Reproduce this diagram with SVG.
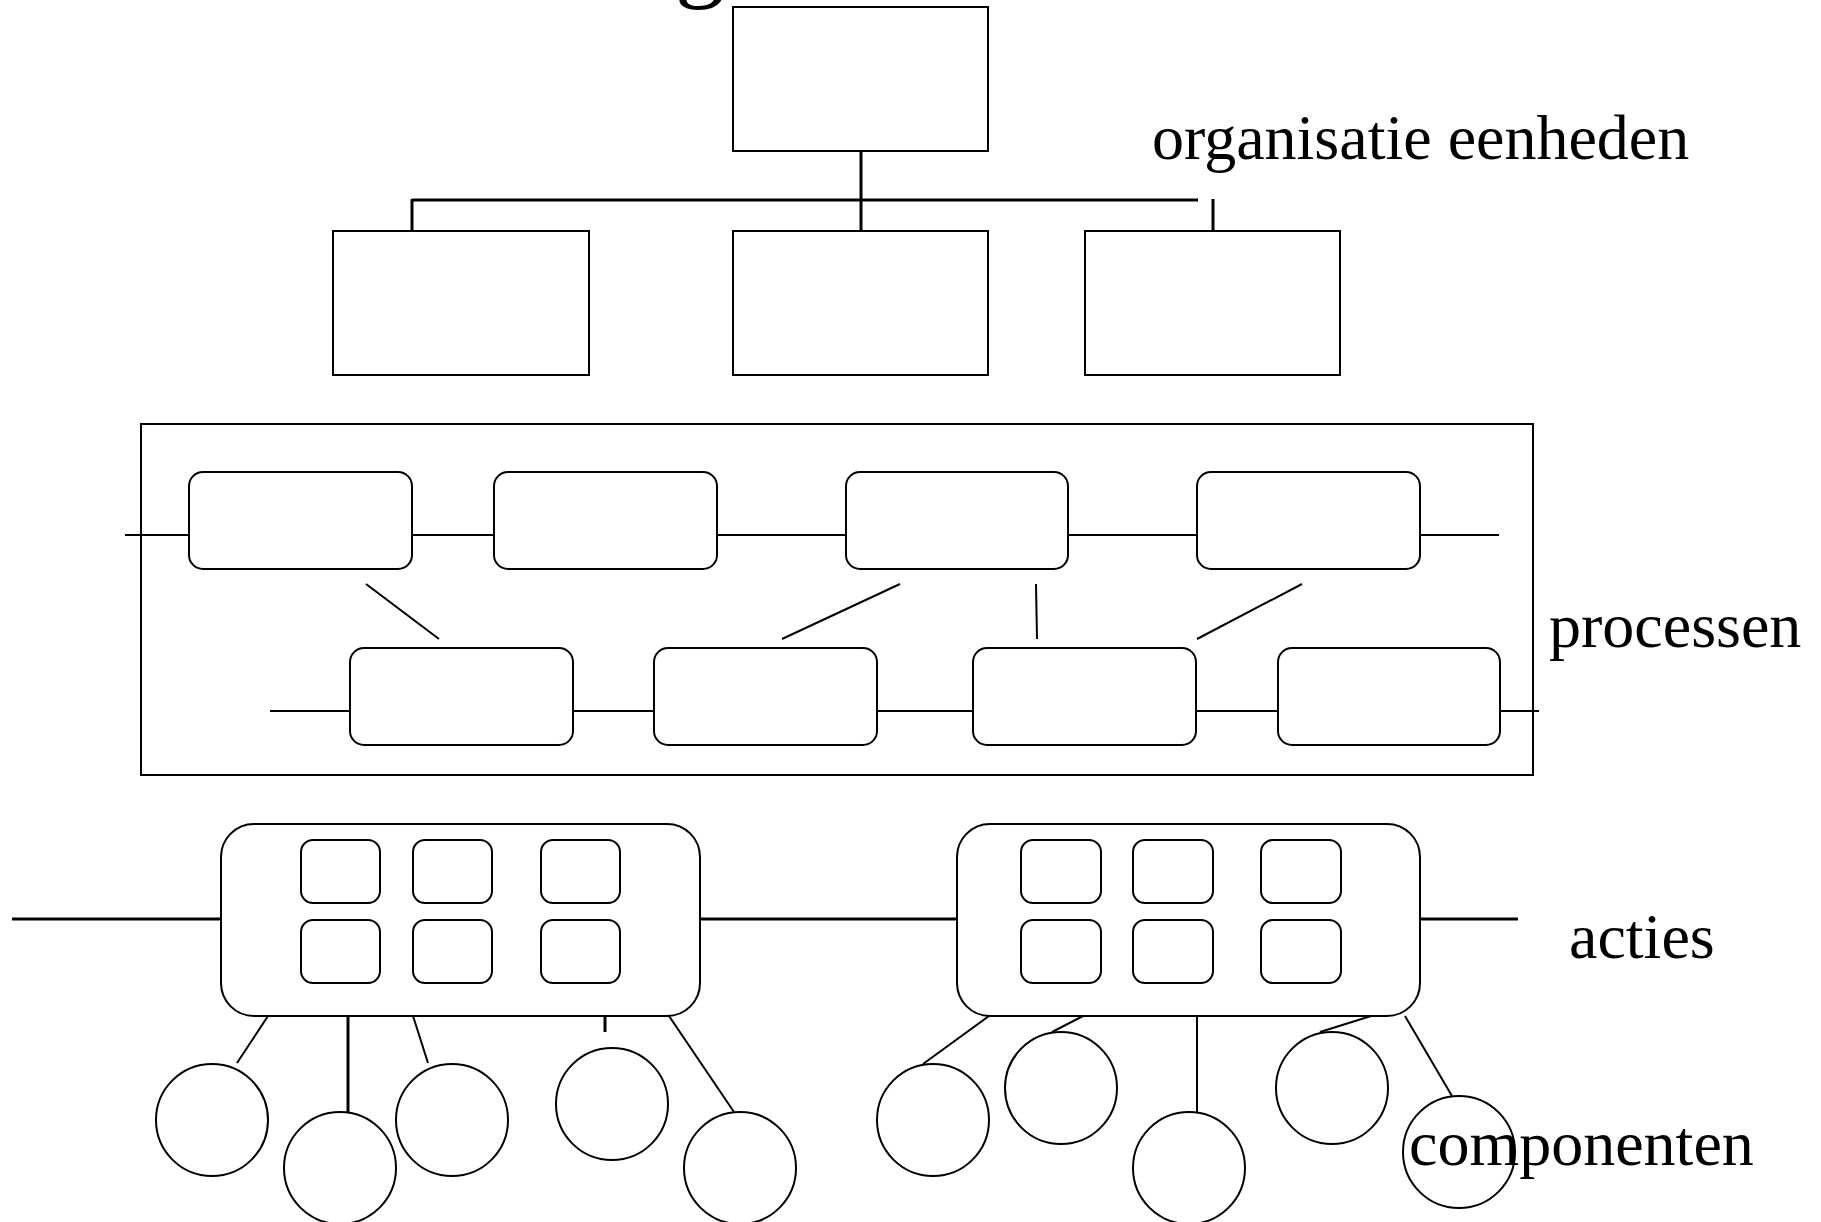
<svg xmlns="http://www.w3.org/2000/svg" width="1821" height="1222" viewBox="0 0 1821 1222">
<style>
.box{fill:#fff;stroke:#000;stroke-width:2}
.ln{stroke:#000;stroke-width:2;fill:none}
.thk{stroke:#000;stroke-width:3;fill:none}
.lbl{font-family:"Liberation Serif","Times New Roman",serif;font-size:64px;fill:#000}
</style>
<rect width="1821" height="1222" fill="#fff"/>
<text class="lbl" x="675" y="-11" style="font-size:100px">g</text>
<g id="connectors">
<line class="thk" x1="861" y1="151" x2="861" y2="231"/>
<line class="thk" x1="412" y1="200" x2="1198" y2="200"/>
<line class="thk" x1="412" y1="199" x2="412" y2="231"/>
<line class="thk" x1="1213" y1="199" x2="1213" y2="231"/>
<line class="ln" x1="125" y1="535" x2="189" y2="535"/>
<line class="ln" x1="412" y1="535" x2="494" y2="535"/>
<line class="ln" x1="717" y1="535" x2="846" y2="535"/>
<line class="ln" x1="1068" y1="535" x2="1197" y2="535"/>
<line class="ln" x1="1420" y1="535" x2="1499" y2="535"/>
<line class="ln" x1="270" y1="711" x2="350" y2="711"/>
<line class="ln" x1="573" y1="711" x2="654" y2="711"/>
<line class="ln" x1="877" y1="711" x2="973" y2="711"/>
<line class="ln" x1="1196" y1="711" x2="1278" y2="711"/>
<line class="ln" x1="1500" y1="711" x2="1539" y2="711"/>
<line class="ln" x1="366" y1="584" x2="439" y2="639"/>
<line class="ln" x1="900" y1="584" x2="782" y2="639"/>
<line class="ln" x1="1036" y1="584" x2="1037" y2="639"/>
<line class="ln" x1="1302" y1="584" x2="1197" y2="639"/>
<line class="thk" x1="12" y1="919" x2="221" y2="919"/>
<line class="thk" x1="700" y1="919" x2="957" y2="919"/>
<line class="thk" x1="1420" y1="919" x2="1518" y2="919"/>
<line class="ln" x1="268" y1="1016" x2="237" y2="1063"/>
<line class="thk" x1="348" y1="1016" x2="348" y2="1112"/>
<line class="ln" x1="413" y1="1016" x2="428" y2="1063"/>
<line class="thk" x1="605" y1="1016" x2="605" y2="1032"/>
<line class="ln" x1="669" y1="1016" x2="734" y2="1112"/>
<line class="ln" x1="989" y1="1016" x2="923" y2="1064"/>
<line class="ln" x1="1083" y1="1016" x2="1052" y2="1032"/>
<line class="ln" x1="1197" y1="1016" x2="1197" y2="1112"/>
<line class="ln" x1="1371" y1="1016" x2="1320" y2="1032"/>
<line class="ln" x1="1405" y1="1016" x2="1452" y2="1096"/>
</g>
<g id="org-top"><rect class="box" x="733" y="7" width="255" height="144"/></g>
<g id="org-1"><rect class="box" x="333" y="231" width="256" height="144"/></g>
<g id="org-2"><rect class="box" x="733" y="231" width="255" height="144"/></g>
<g id="org-3"><rect class="box" x="1085" y="231" width="255" height="144"/></g>
<g id="label-org"><text class="lbl" x="1152" y="159">organisatie eenheden</text></g>
<g id="processen-frame"><rect class="box" x="141" y="424" width="1392" height="351" fill="none" style="fill:none"/></g>
<g id="p1"><rect class="box" x="189" y="472" width="223" height="97" rx="14"/></g>
<g id="p2"><rect class="box" x="494" y="472" width="223" height="97" rx="14"/></g>
<g id="p3"><rect class="box" x="846" y="472" width="222" height="97" rx="14"/></g>
<g id="p4"><rect class="box" x="1197" y="472" width="223" height="97" rx="14"/></g>
<g id="p5"><rect class="box" x="350" y="648" width="223" height="97" rx="14"/></g>
<g id="p6"><rect class="box" x="654" y="648" width="223" height="97" rx="14"/></g>
<g id="p7"><rect class="box" x="973" y="648" width="223" height="97" rx="14"/></g>
<g id="p8"><rect class="box" x="1278" y="648" width="222" height="97" rx="14"/></g>
<g id="label-processen"><text class="lbl" x="1549" y="647">processen</text></g>
<g id="actie-1">
<rect class="box" x="221" y="824" width="479" height="192" rx="33"/>
<rect class="box" x="301" y="840" width="79" height="63" rx="12"/>
<rect class="box" x="413" y="840" width="79" height="63" rx="12"/>
<rect class="box" x="541" y="840" width="79" height="63" rx="12"/>
<rect class="box" x="301" y="920" width="79" height="63" rx="12"/>
<rect class="box" x="413" y="920" width="79" height="63" rx="12"/>
<rect class="box" x="541" y="920" width="79" height="63" rx="12"/>
</g>
<g id="actie-2">
<rect class="box" x="957" y="824" width="463" height="192" rx="33"/>
<rect class="box" x="1021" y="840" width="80" height="63" rx="12"/>
<rect class="box" x="1133" y="840" width="80" height="63" rx="12"/>
<rect class="box" x="1261" y="840" width="80" height="63" rx="12"/>
<rect class="box" x="1021" y="920" width="80" height="63" rx="12"/>
<rect class="box" x="1133" y="920" width="80" height="63" rx="12"/>
<rect class="box" x="1261" y="920" width="80" height="63" rx="12"/>
</g>
<g id="label-acties"><text class="lbl" x="1569" y="958">acties</text></g>
<g id="c1"><ellipse class="box" cx="212" cy="1120" rx="56" ry="56"/></g>
<g id="c2"><ellipse class="box" cx="340" cy="1168" rx="56" ry="56"/></g>
<g id="c3"><ellipse class="box" cx="452" cy="1120" rx="56" ry="56"/></g>
<g id="c4"><ellipse class="box" cx="612" cy="1104" rx="56" ry="56"/></g>
<g id="c5"><ellipse class="box" cx="740" cy="1168" rx="56" ry="56"/></g>
<g id="c6"><ellipse class="box" cx="933" cy="1120" rx="56" ry="56"/></g>
<g id="c7"><ellipse class="box" cx="1061" cy="1088" rx="56" ry="56"/></g>
<g id="c8"><ellipse class="box" cx="1189" cy="1168" rx="56" ry="56"/></g>
<g id="c9"><ellipse class="box" cx="1332" cy="1088" rx="56" ry="56"/></g>
<g id="c10"><ellipse class="box" cx="1459" cy="1152" rx="56" ry="56" style="fill:none"/></g>
<g id="label-componenten"><text class="lbl" x="1409" y="1165">componenten</text></g>
</svg>
